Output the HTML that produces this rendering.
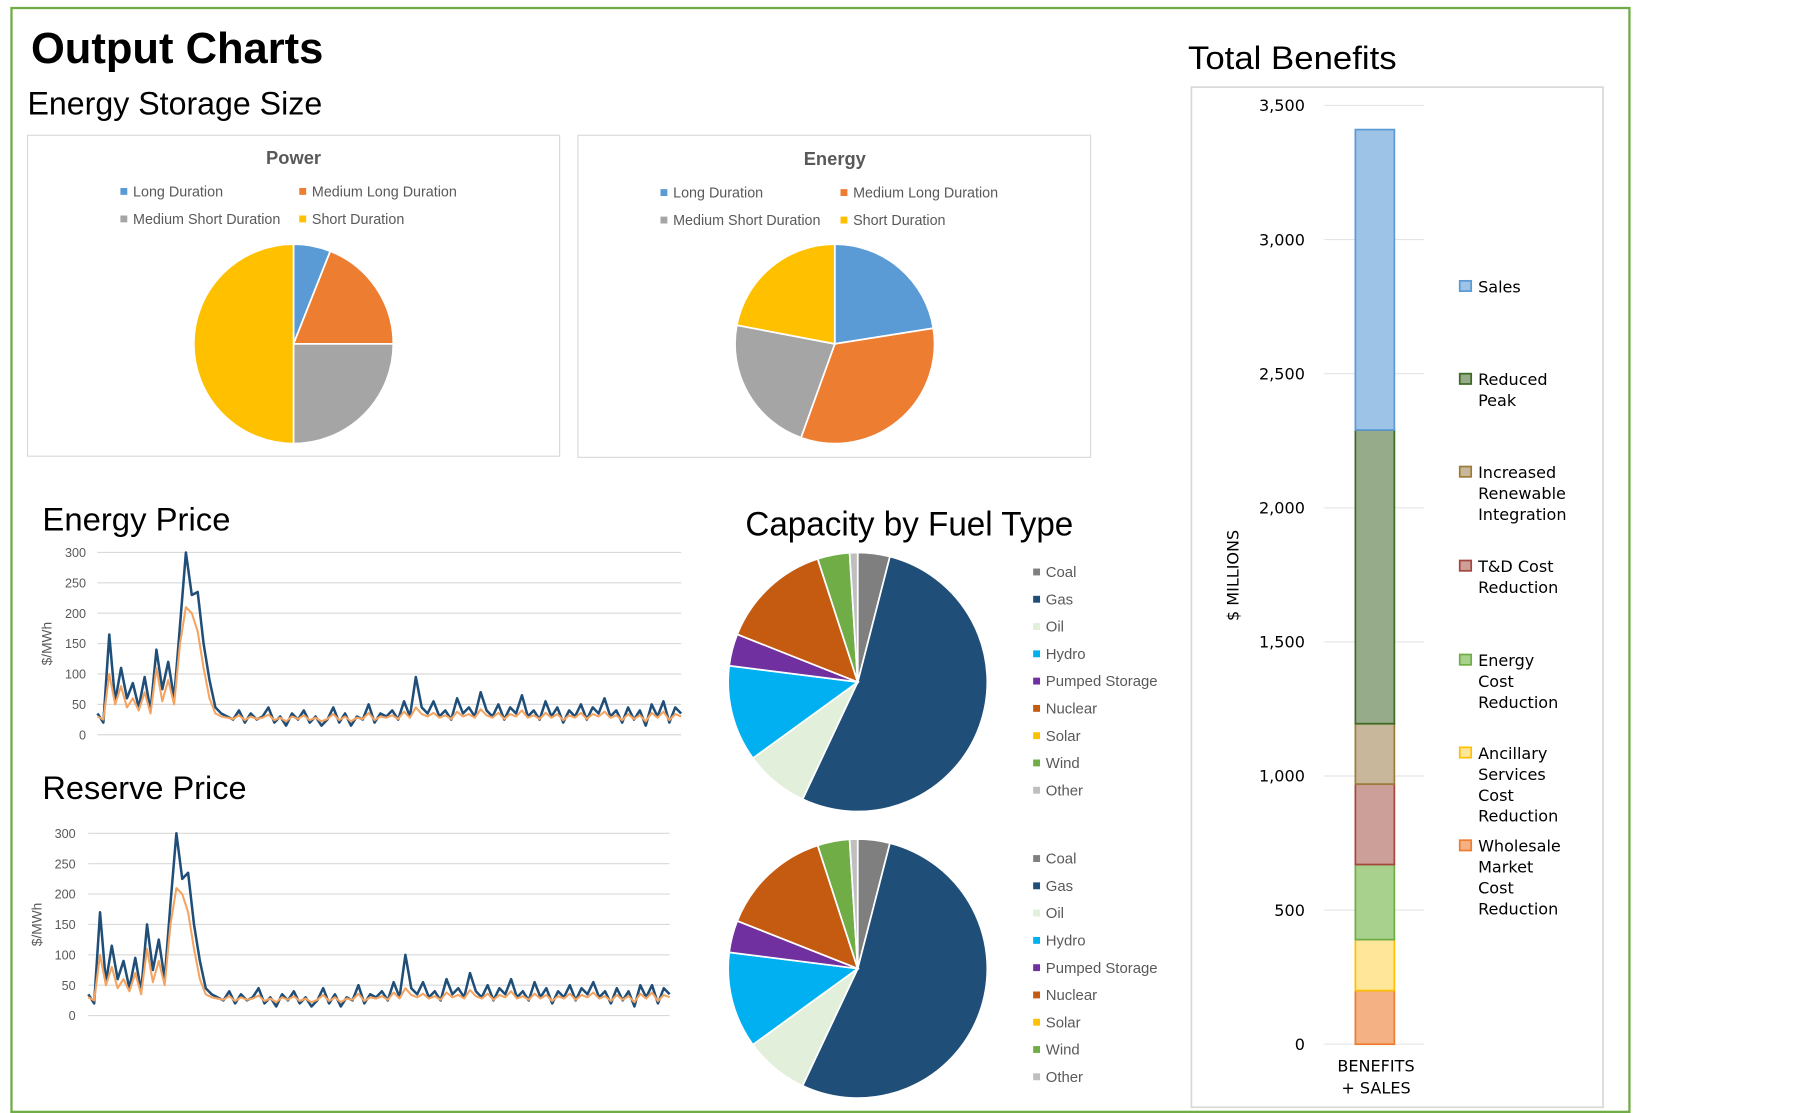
<!DOCTYPE html>
<html><head><meta charset="utf-8"><style>
html,body{margin:0;padding:0;background:#fff;}
svg{display:block;}
text{font-family:"Liberation Sans",sans-serif;}
.leg{font-family:"DejaVu Sans","Liberation Sans",sans-serif;}
</style></head><body>
<svg id="main" width="1798" height="1113" viewBox="0 0 1568 971" preserveAspectRatio="none" xmlns="http://www.w3.org/2000/svg">
<rect x="10" y="7" width="1411" height="963" fill="none" stroke="#70ad47" stroke-width="2"/>
<text x="27" y="55" font-size="38" font-weight="bold" textLength="255" lengthAdjust="spacingAndGlyphs">Output Charts</text>
<text x="24" y="100" font-size="28" textLength="257" lengthAdjust="spacingAndGlyphs">Energy Storage Size</text>
<rect x="24" y="118" width="464" height="280" fill="#fff" stroke="#d9d9d9"/>
<rect x="504" y="118" width="447" height="281" fill="#fff" stroke="#d9d9d9"/>
<text x="256" y="143" font-size="16" font-weight="bold" fill="#595959" text-anchor="middle">Power</text>
<text x="728" y="144" font-size="16" font-weight="bold" fill="#595959" text-anchor="middle">Energy</text>
<g id="storageLegends"></g>
<g id="powerPie"></g>
<g id="energyPie"></g>
<text x="37" y="463" font-size="28" textLength="164" lengthAdjust="spacingAndGlyphs">Energy Price</text>
<text x="37" y="697" font-size="28" textLength="178" lengthAdjust="spacingAndGlyphs">Reserve Price</text>
<text x="650" y="467" font-size="30" textLength="286" lengthAdjust="spacingAndGlyphs">Capacity by Fuel Type</text>
<text x="1036" y="60" font-size="28" textLength="182" lengthAdjust="spacingAndGlyphs">Total Benefits</text>
<g id="energyPrice"></g>
<g id="reservePrice"></g>
<g id="cap1"></g>
<g id="cap2"></g>
<rect x="1039" y="76" width="359" height="890" fill="#fff" stroke="#d9d9d9" stroke-width="1.5"/>
<g id="benefits"></g>
</svg>
<script>
const NS="http://www.w3.org/2000/svg";
function mk(tag,attrs,parent){const e=document.createElementNS(NS,tag);for(const k in attrs)e.setAttribute(k,attrs[k]);parent.appendChild(e);return e;}

// ---- data ----
const storageCategories=["Long Duration","Medium Long Duration","Medium Short Duration","Short Duration"];
const storageColors=["#5b9bd5","#ed7d31","#a5a5a5","#ffc000"];
const powerValues=[6,19,25,50];
const energyValues=[22.5,33,22.5,22];

const fuelCategories=["Coal","Gas","Oil","Hydro","Pumped Storage","Nuclear","Solar","Wind","Other"];
const fuelColors=["#7f7f7f","#1f4e79","#e2efda","#00b0f0","#7030a0","#c55a11","#ffc000","#70ad47","#bfbfbf"];
const capacityValues1=[4,53,8,12,4,14,0,4,1];
const capacityValues2=[4,53,8,12,4,14,0,4,1];

const priceTicks=[0,50,100,150,200,250,300];
const energyPriceBlue=[35,20,165,55,110,60,85,45,95,40,140,75,120,60,180,300,230,235,150,90,45,35,30,25,40,20,35,25,30,45,20,30,15,35,25,40,20,30,15,25,45,20,35,15,30,25,50,20,35,30,40,25,55,30,95,45,35,55,30,40,25,60,35,45,30,70,40,30,50,25,45,35,65,30,40,25,55,30,45,20,40,30,50,25,45,35,60,30,40,20,45,25,40,15,50,30,55,20,45,35];
const energyPriceOrange=[30,25,100,50,80,45,60,40,70,35,110,55,90,50,150,210,200,170,110,60,35,30,28,26,32,24,30,26,28,33,24,28,22,30,26,32,24,28,22,26,34,24,30,22,28,26,36,24,30,28,32,26,38,28,45,34,30,36,28,32,26,38,30,34,28,42,32,28,36,26,34,30,40,28,32,26,36,28,34,24,32,28,36,26,34,30,38,28,32,24,34,26,32,22,36,28,38,24,34,30];
const reservePriceBlue=[35,20,170,55,115,60,90,45,95,40,150,75,125,60,185,300,225,235,150,90,45,35,30,25,40,20,35,25,30,45,20,30,15,35,25,40,20,30,15,25,45,20,35,15,30,25,50,20,35,30,40,25,55,30,100,45,35,55,30,40,25,60,35,45,30,70,40,30,50,25,45,35,60,30,40,25,55,30,45,20,40,30,50,25,45,35,55,30,40,20,45,25,40,15,50,30,50,20,45,35];
const reservePriceOrange=[30,25,100,50,80,45,60,40,70,35,110,55,90,50,150,210,200,170,110,60,35,30,28,26,32,24,30,26,28,33,24,28,22,30,26,32,24,28,22,26,34,24,30,22,28,26,36,24,30,28,32,26,38,28,45,34,30,36,28,32,26,38,30,34,28,42,32,28,36,26,34,30,40,28,32,26,36,28,34,24,32,28,36,26,34,30,38,28,32,24,34,26,32,22,36,28,38,24,34,30];

const benefitCategories=["Wholesale Market Cost Reduction","Ancillary Services Cost Reduction","Energy Cost Reduction","T&D Cost Reduction","Increased Renewable Integration","Reduced Peak","Sales"];
const benefitValues=[200,190,280,300,225,1095,1120];
const benefitFills=["#f4b183","#ffe699","#a9d18e","#cc9f98","#c8b79a","#95ab8a","#9dc3e6"];
const benefitStrokes=["#ed7d31","#ffc000","#70ad47","#a5473e","#9c7c38","#3f6a22","#5b9bd5"];
const benefitTicks=[0,500,1000,1500,2000,2500,3000,3500];
const benefitLegendLines=[["Sales"],["Reduced","Peak"],["Increased","Renewable","Integration"],["T&D Cost","Reduction"],["Energy","Cost","Reduction"],["Ancillary","Services","Cost","Reduction"],["Wholesale","Market","Cost","Reduction"]];
const benefitLegendIdx=[6,5,4,3,2,1,0];

// ---- pie ----
function drawPie(g,values,colors,cx,cy,r,names){
  const tot=values.reduce((a,b)=>a+b,0);let a0=0;
  values.forEach((v,i)=>{
    if(v<=0)return;
    const a1=a0+v/tot*2*Math.PI;
    const x0=cx+r*Math.sin(a0),y0=cy-r*Math.cos(a0),x1=cx+r*Math.sin(a1),y1=cy-r*Math.cos(a1);
    const p=mk("path",{d:`M${cx},${cy}L${x0},${y0}A${r},${r} 0 ${(a1-a0)>Math.PI?1:0} 1 ${x1},${y1}Z`,fill:colors[i],stroke:"#fff","stroke-width":1.5},g);
    
    
    a0=a1;
  });
}
drawPie(document.getElementById("powerPie"),powerValues,storageColors,256,300,87,storageCategories);
drawPie(document.getElementById("energyPie"),energyValues,storageColors,728,300,87,storageCategories);
drawPie(document.getElementById("cap1"),capacityValues1,fuelColors,748,595,113,fuelCategories);
drawPie(document.getElementById("cap2"),capacityValues2,fuelColors,748,845,113,fuelCategories);

// storage legends
const sl=document.getElementById("storageLegends");
[[105,167,261,191],[576,168,733,192]].forEach(([xa,ya,xb,yb])=>{
  const pos=[[xa,ya],[xb,ya],[xa,yb],[xb,yb]];
  storageCategories.forEach((c,i)=>{
    const g=mk("g",{},sl);
    
    
    mk("rect",{x:pos[i][0],y:pos[i][1]-3,width:6,height:6,fill:storageColors[i]},g);
    const t=mk("text",{x:pos[i][0]+11,y:pos[i][1]+4.5,"font-size":12.5,fill:"#595959"},g);t.textContent=c;
  });
});

// fuel legends
[499,749].forEach(y0=>{
  fuelCategories.forEach((c,i)=>{
    const y=y0+i*23.8;
    const g=mk("g",{},document.getElementById("main"));
    
    
    mk("rect",{x:901,y:y-3,width:6,height:6,fill:fuelColors[i]},g);
    const t=mk("text",{x:912,y:y+4.5,"font-size":13,fill:"#595959"},g);t.textContent=c;
  });
});

// ---- line charts ----
function drawPrice(g,blue,orange,x0,x1,yTop,yBot,lblX,axisX){
  const ys=v=>yBot-(v/300)*(yBot-yTop);
  const xs=i=>x0+i/(blue.length-1)*(x1-x0);
  priceTicks.forEach(t=>{
    const l=mk("line",{x1:x0,x2:x1,y1:ys(t),y2:ys(t),stroke:"#d9d9d9","stroke-width":1},g);
    
    const tx=mk("text",{x:lblX,y:ys(t)+4,"font-size":11,fill:"#595959","text-anchor":"end"},g);tx.textContent=t;
    
  });
  const yt=mk("text",{transform:`translate(${axisX},${(yTop+yBot)/2}) rotate(-90)`,"font-size":12,fill:"#595959","text-anchor":"middle"},g);
  yt.textContent="$/MWh";
  const pb=mk("polyline",{points:blue.map((v,i)=>xs(i)+","+ys(v)).join(" "),fill:"none",stroke:"#1f4e79","stroke-width":2.2,"stroke-linejoin":"round"},g);
  
  const po=mk("polyline",{points:orange.map((v,i)=>xs(i)+","+ys(v)).join(" "),fill:"none",stroke:"#f4a460","stroke-width":1.8,"stroke-linejoin":"round"},g);
  
}
drawPrice(document.getElementById("energyPrice"),energyPriceBlue,energyPriceOrange,85,594,482,641,75,45);
drawPrice(document.getElementById("reservePrice"),reservePriceBlue,reservePriceOrange,77,584,727,886,66,36);

// ---- benefits ----
(function(){
  const g=document.getElementById("benefits");
  const yTop=92,yBot=911,vmax=3500;
  const ys=v=>yBot-v/vmax*(yBot-yTop);
  benefitTicks.forEach(t=>{
    const l=mk("line",{x1:1155,x2:1242,y1:ys(t),y2:ys(t),stroke:"#e5e5e5"},g);
    
    const tx=mk("text",{x:1138,y:ys(t)+5,"font-size":14,fill:"#000","text-anchor":"end",class:"leg"},g);
    tx.textContent=t.toLocaleString("en-US");
    
  });
  let acc=0;
  benefitValues.forEach((v,i)=>{
    const r=mk("rect",{x:1182,y:ys(acc+v),width:34,height:ys(acc)-ys(acc+v),fill:benefitFills[i],stroke:benefitStrokes[i],"stroke-width":1.5},g);
    
    
    acc+=v;
  });
  const yt=mk("text",{transform:"translate(1080,502) rotate(-90)","font-size":14,"text-anchor":"middle",class:"leg"},g);
  yt.textContent="$ MILLIONS";
  const x1=mk("text",{x:1200,y:935,"font-size":14,"text-anchor":"middle",class:"leg"},g);x1.textContent="BENEFITS";
  
  const x2=mk("text",{x:1200,y:954,"font-size":14,"text-anchor":"middle",class:"leg"},g);x2.textContent="+ SALES";
  
  const legY=[250,331,412,494,576,657,738];
  benefitLegendLines.forEach((lines,k)=>{
    const i=benefitLegendIdx[k];
    const lg=mk("g",{},g);
    
    
    mk("rect",{x:1273,y:legY[k]-5,width:10,height:9,fill:benefitFills[i],stroke:benefitStrokes[i],"stroke-width":1.5},lg);
    lines.forEach((s,j)=>{const t=mk("text",{x:1289,y:legY[k]+5+j*18.3,"font-size":14,class:"leg"},lg);t.textContent=s;});
  });
})();
</script>
</body></html>
